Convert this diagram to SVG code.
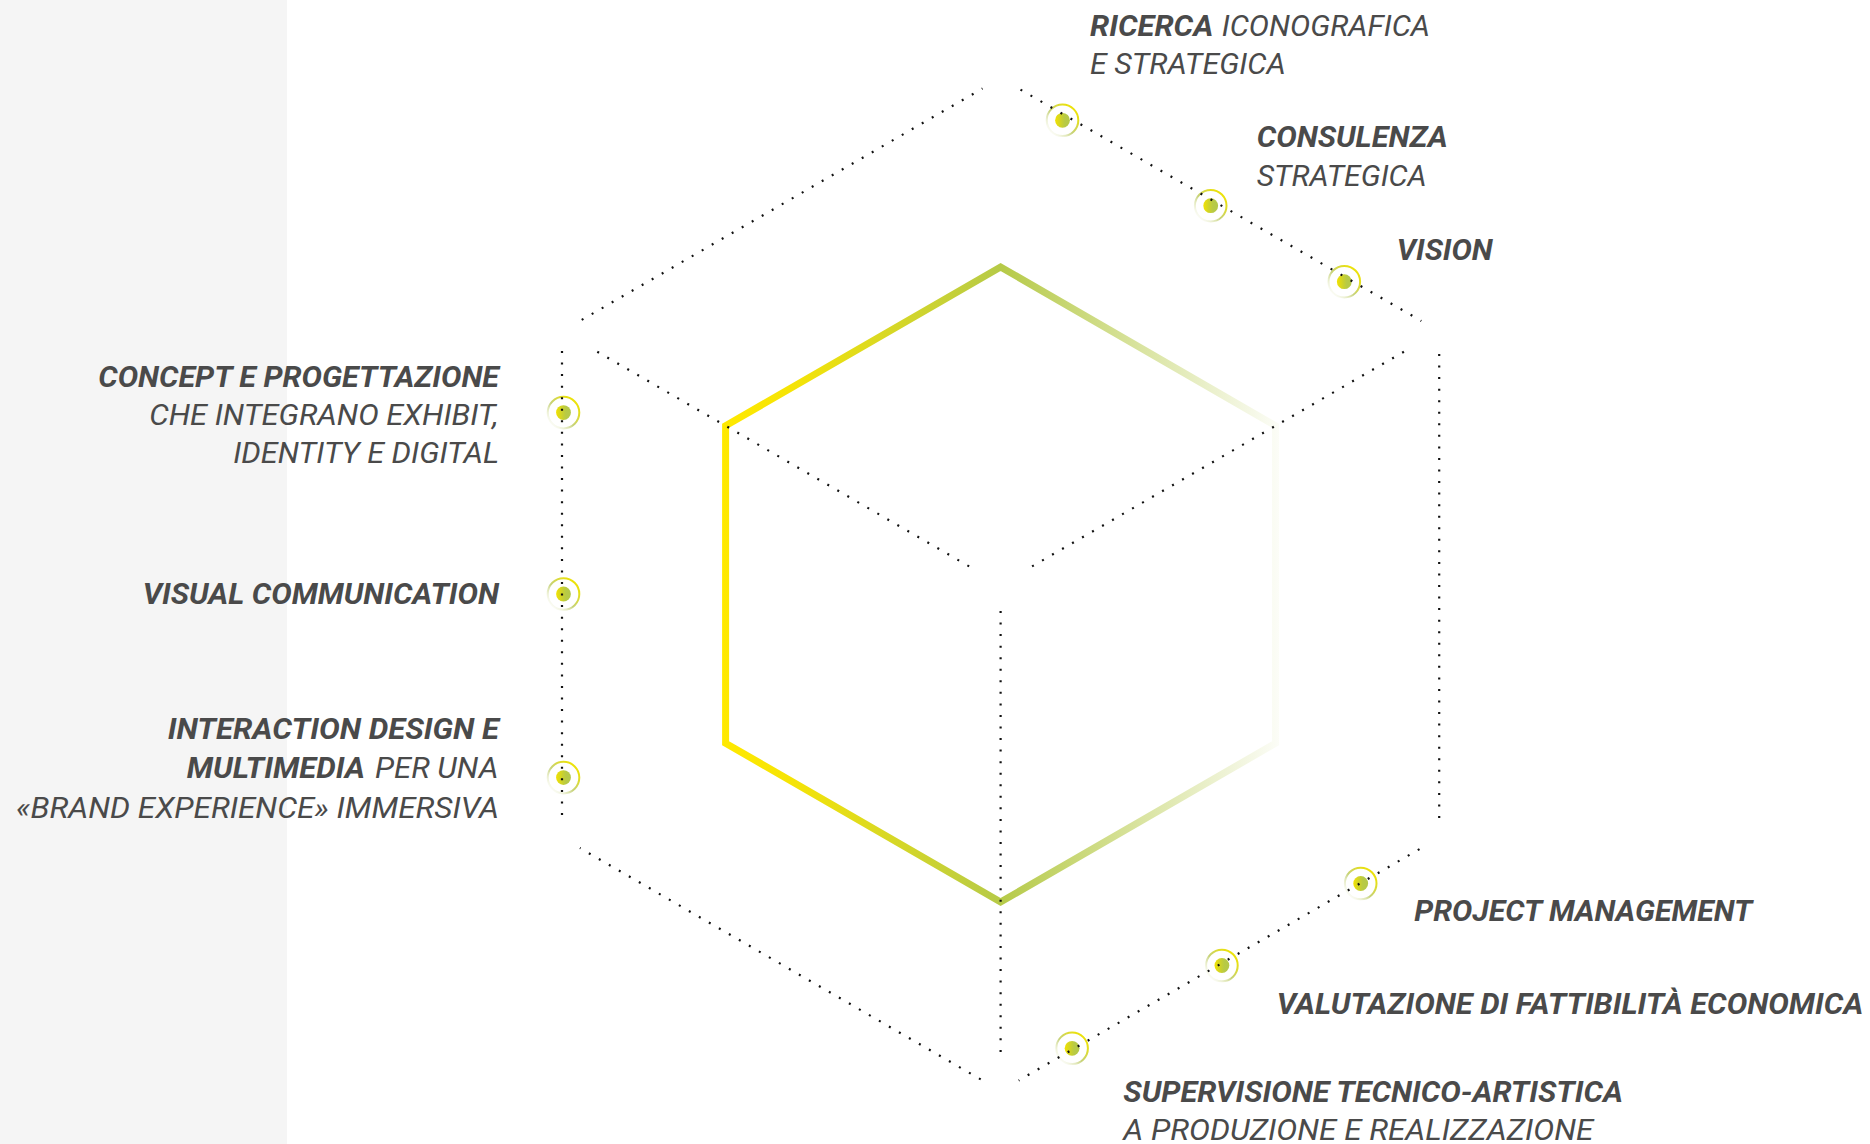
<svg xmlns="http://www.w3.org/2000/svg" width="1870" height="1144" viewBox="0 0 1870 1144">
<style>
.t{font-family:Roboto,"Liberation Sans",sans-serif;font-style:italic;font-size:28.5px;fill:#4a4a4a}
.b{font-weight:700}
.r{font-weight:400}
.dots{fill:none;stroke:#111111;stroke-width:2.2;stroke-dasharray:2 9.55}
.hex{fill:none;stroke:url(#hexGrad);stroke-width:7;stroke-linejoin:miter}
</style>
<defs>
<linearGradient id="hexGrad" gradientUnits="userSpaceOnUse" x1="722" y1="0" x2="1280" y2="0">
<stop offset="0" stop-color="#ffe900"/>
<stop offset="0.12" stop-color="#f6e405"/>
<stop offset="0.5" stop-color="#b6ca48"/>
<stop offset="1" stop-color="#b6ca48" stop-opacity="0.04"/>
</linearGradient>
<linearGradient id="dotGrad" x1="0" y1="0" x2="1" y2="0">
<stop offset="0" stop-color="#f2e200"/>
<stop offset="0.45" stop-color="#c8d030"/>
<stop offset="0.65" stop-color="#b8ca45"/>
<stop offset="1" stop-color="#b4c84a"/>
</linearGradient>
<linearGradient id="ringGrad" x1="0" y1="1" x2="1" y2="0">
<stop offset="0" stop-color="#ffffff" stop-opacity="0"/>
<stop offset="0.45" stop-color="#c6d27a"/>
<stop offset="0.8" stop-color="#e8e010"/>
<stop offset="1" stop-color="#f5e600"/>
</linearGradient>
<g id="mk">
<circle r="15.8" fill="none" stroke="url(#ringGrad)" stroke-width="2"/>
<circle r="7.4" fill="url(#dotGrad)"/>
</g>
</defs>
<rect x="0" y="0" width="1870" height="1144" fill="#ffffff"/>
<rect x="0" y="0" width="287" height="1144" fill="#f5f5f5"/>

<g id="hexagon">
<polygon class="hex" points="1000.6,267 1275.6,425.8 1275.6,743.2 1000.6,902 725.6,743.2 725.6,425.8"/>
</g>

<g id="node-ricerca">
<use href="#mk" x="1062.5" y="120.3"/>
<text class="t b" x="1090" y="35.7" textLength="123.3" lengthAdjust="spacingAndGlyphs">RICERCA</text>
<text class="t r" x="1221.7" y="35.7" textLength="208.3" lengthAdjust="spacingAndGlyphs">ICONOGRAFICA</text>
<text class="t r" x="1090" y="74" textLength="195.7" lengthAdjust="spacingAndGlyphs">E STRATEGICA</text>
</g>
<g id="node-consulenza">
<use href="#mk" x="1210.7" y="205.7"/>
<text class="t b" x="1256.7" y="146.7" textLength="191" lengthAdjust="spacingAndGlyphs">CONSULENZA</text>
<text class="t r" x="1256.7" y="186" textLength="170" lengthAdjust="spacingAndGlyphs">STRATEGICA</text>
</g>
<g id="node-vision">
<use href="#mk" x="1344.3" y="281.7"/>
<text class="t b" x="1396.7" y="260" textLength="96" lengthAdjust="spacingAndGlyphs">VISION</text>
</g>
<g id="node-concept">
<use href="#mk" x="563.5" y="412.6"/>
<text class="t b" x="98.3" y="387.3" textLength="400.7" lengthAdjust="spacingAndGlyphs">CONCEPT E PROGETTAZIONE</text>
<text class="t r" x="149.3" y="425" textLength="349" lengthAdjust="spacingAndGlyphs">CHE INTEGRANO EXHIBIT,</text>
<text class="t r" x="233.3" y="463.3" textLength="265.7" lengthAdjust="spacingAndGlyphs">IDENTITY E DIGITAL</text>
</g>
<g id="node-visual">
<use href="#mk" x="563.5" y="594"/>
<text class="t b" x="142.7" y="604.3" textLength="356.3" lengthAdjust="spacingAndGlyphs">VISUAL COMMUNICATION</text>
</g>
<g id="node-interaction">
<use href="#mk" x="563.5" y="777.6"/>
<text class="t b" x="167.7" y="739" textLength="331.3" lengthAdjust="spacingAndGlyphs">INTERACTION DESIGN E</text>
<text class="t b" x="186.7" y="778.3" textLength="178.3" lengthAdjust="spacingAndGlyphs">MULTIMEDIA</text>
<text class="t r" x="375" y="778.3" textLength="123.3" lengthAdjust="spacingAndGlyphs">PER UNA</text>
<text class="t r" x="16" y="817.7" textLength="483" lengthAdjust="spacingAndGlyphs">«BRAND EXPERIENCE» IMMERSIVA</text>
</g>
<g id="node-project">
<use href="#mk" x="1360.7" y="883.5"/>
<text class="t b" x="1414.3" y="920.7" textLength="338" lengthAdjust="spacingAndGlyphs">PROJECT MANAGEMENT</text>
</g>
<g id="node-valutazione">
<use href="#mk" x="1221.9" y="965.5"/>
<text class="t b" x="1276.7" y="1014.3" textLength="586.6" lengthAdjust="spacingAndGlyphs">VALUTAZIONE DI FATTIBILITÀ ECONOMICA</text>
</g>
<g id="node-supervisione">
<use href="#mk" x="1072.1" y="1048.3"/>
<text class="t b" x="1123.3" y="1101.7" textLength="499.7" lengthAdjust="spacingAndGlyphs">SUPERVISIONE TECNICO-ARTISTICA</text>
<text class="t r" x="1123.3" y="1140" textLength="470" lengthAdjust="spacingAndGlyphs">A PRODUZIONE E REALIZZAZIONE</text>
</g>

<g id="connectors">
<path class="dots" d="M581.7,319.9 L982.5,88.5"/>
<path class="dots" d="M1020.5,89.6 L1421.3,321"/>
<path class="dots" d="M1439.2,354 L1439.2,818.5"/>
<path class="dots" d="M1419.5,849.1 L1018.7,1080.5"/>
<path class="dots" d="M980.7,1079.4 L579.9,848"/>
<path class="dots" d="M562,815 L562,350.5"/>
<path class="dots" d="M597.3,351.7 L974.2,569.3"/>
<path class="dots" d="M1403.9,351.7 L1027,569.3"/>
<path class="dots" d="M1000.6,611 L1000.6,1058.5"/>
</g>
</svg>
